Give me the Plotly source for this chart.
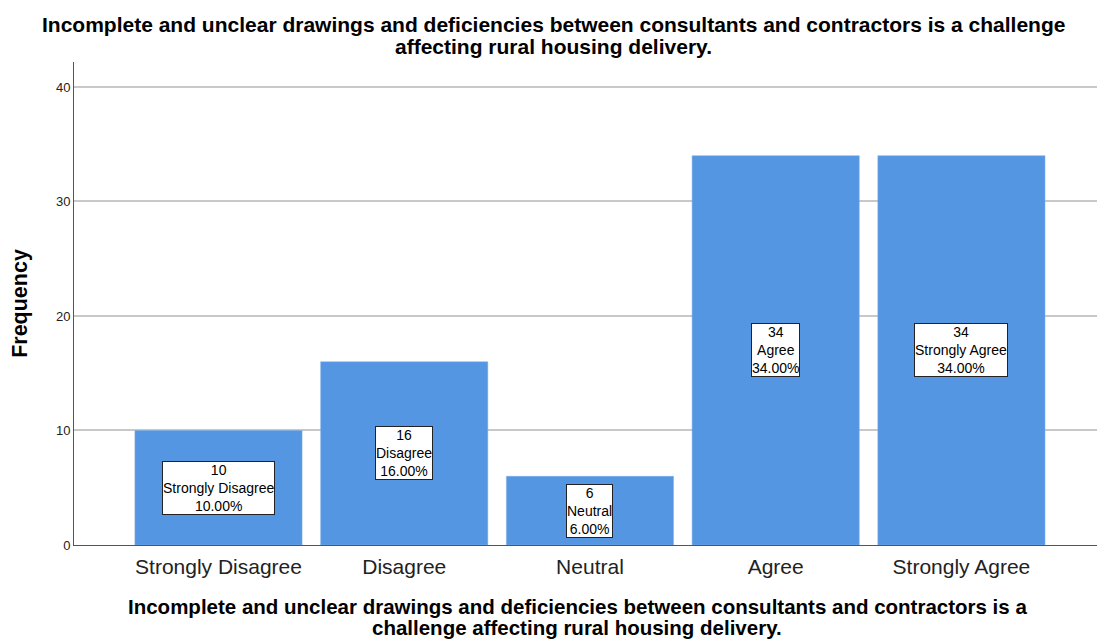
import plotly.graph_objects as go

categories = ["Strongly Disagree", "Disagree", "Neutral", "Agree", "Strongly Agree"]
counts = [10, 16, 6, 34, 34]
percents = [10.00, 16.00, 6.00, 34.00, 34.00]

title_lines = ["Incomplete and unclear drawings and deficiencies between consultants and contractors is a challenge",
               "affecting rural housing delivery."]
xtitle_lines = ["Incomplete and unclear drawings and deficiencies between consultants and contractors is a",
                "challenge affecting rural housing delivery."]

FONT = "Liberation Sans, Arial, sans-serif"
xs = list(range(len(categories)))

fig = go.Figure()
fig.add_trace(go.Bar(
    x=xs, y=counts, width=0.9,
    marker=dict(color="#5596E3", line=dict(color="#7aaee8", width=0.5)),
    hoverinfo="skip",
))

for i, (c, n, p) in enumerate(zip(categories, counts, percents)):
    fig.add_annotation(
        x=i, y=n / 2, xref="x", yref="y",
        text=f"{n}<br>{c}<br>{p:.2f}%",
        showarrow=False,
        font=dict(family=FONT, size=14, color="black"),
        bgcolor="white", bordercolor="#222222", borderwidth=1, borderpad=0,
        align="center",
    )

# chart title (two lines, tight spacing)
for k, line in enumerate(title_lines):
    fig.add_annotation(
        x=0.469, y=1, xref="paper", yref="paper", yanchor="middle",
        yshift=38 - 22 * k,
        text=f"<b>{line}</b>", showarrow=False,
        font=dict(family=FONT, size=21, color="black"), align="center",
    )
# x-axis title
for k, line in enumerate(xtitle_lines):
    fig.add_annotation(
        x=0.4917, y=0, xref="paper", yref="paper", yanchor="middle",
        yshift=-61 - 21 * k,
        text=f"<b>{line}</b>", showarrow=False,
        font=dict(family=FONT, size=20.5, color="black"), align="center",
    )

fig.update_layout(
    width=1097, height=639,
    margin=dict(l=74, r=0, t=62, b=94),
    plot_bgcolor="white", paper_bgcolor="white",
    showlegend=False,
    font=dict(family=FONT, color="black"),
    xaxis=dict(
        range=[-0.778, 4.73], tickmode="array", tickvals=xs, ticktext=categories,
        tickfont=dict(family=FONT, size=21, color="#222222"),
        ticklabelstandoff=3,
        showline=True, linecolor="#555555", linewidth=1,
        showgrid=False, zeroline=False, ticks="",
    ),
    yaxis=dict(
        range=[0, 42.18], tickvals=[0, 10, 20, 30, 40],
        tickfont=dict(family=FONT, size=13, color="#222222"),
        showline=True, linecolor="#555555", linewidth=1,
        showgrid=True, gridcolor="#c8c8c8", gridwidth=1.5,
        zeroline=False, ticks="", ticklen=0,
        title=dict(text="<b>Frequency</b>", font=dict(family=FONT, size=21.5, color="black"), standoff=22),
    ),
)

fig.write_html(
    "out.html",
    config={"displayModeBar": False},
    post_script="document.body.style.margin='0';document.body.style.overflow='hidden';",
)
